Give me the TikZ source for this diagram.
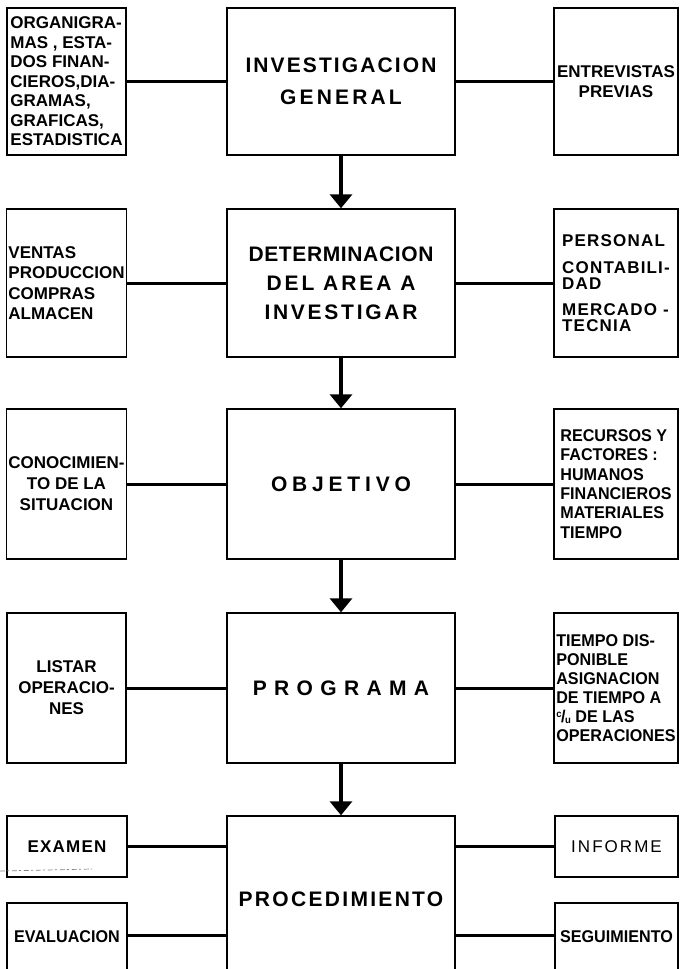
\documentclass[tikz,border=0pt]{standalone}
\usepackage{fontspec}
\setmainfont{Liberation Sans}
\newfontfamily\sidefont{Liberation Sans}[FakeStretch=0.95]
\usetikzlibrary{arrows.meta}
\newcommand{\cslash}{\raisebox{5pt}{\fontsize{10}{10}\selectfont c}\kern-0.5pt/\kern-0.5pt\raisebox{-1pt}{\fontsize{10}{10}\selectfont u}}
\newcommand{\ls}[2]{{\addfontfeatures{LetterSpace=#1}#2}}
\begin{document}
\begin{tikzpicture}[x=1pt,y=-1pt,
  box/.style={draw, line width=1.4pt, inner sep=2pt},
  mainbox/.style={box, minimum width=228pt, align=center, font=\fontsize{21}{29}\selectfont\bfseries},
  lbox/.style={box, minimum width=119pt},
  rbox/.style={box, minimum width=124pt},
  conn/.style={line width=3pt},
  flow/.style={line width=3.4pt, -{Triangle[width=22pt,length=14pt]}}]
\useasboundingbox (0,0) rectangle (680,969);
\clip (0,0) rectangle (680,969);

% ---- row 1
\node[mainbox, minimum height=147pt, font=\fontsize{21}{32}\selectfont\bfseries] (inv) at (341,81.5) {\ls{10}{INVESTIGACION}\\\ls{15}{GENERAL}};
\node[lbox, minimum height=147pt, align=left, font=\fontsize{17}{19.5}\selectfont\bfseries] (org) at (66.5,81.5)
  {ORGANIGRA-\\MAS , ESTA-\\DOS FINAN-\\CIEROS,DIA-\\GRAMAS,\\GRAFICAS,\\ESTADISTICA};
\node[rbox, minimum height=147pt, align=center, font=\fontsize{17}{20}\selectfont\bfseries] (ent) at (616,81.5) {ENTREVISTAS\\PREVIAS};

% ---- row 2
\node[mainbox, minimum height=148pt] (det) at (341,283) {\ls{3}{DETERMINACION}\\\ls{14}{DEL AREA A}\\\ls{13}{INVESTIGAR}};
\node[lbox, minimum height=148pt, align=left, font=\fontsize{17}{20.5}\selectfont\bfseries] (ven) at (66.5,283)
  {VENTAS\\PRODUCCION\\COMPRAS\\ALMACEN};
\node[rbox, minimum height=148pt, align=left, font=\fontsize{17}{16}\selectfont\bfseries\addfontfeatures{LetterSpace=7}] (per) at (616,283)
  {PERSONAL\\[11pt]CONTABILI-\\DAD\\[10pt]MERCADO -\\TECNIA};

% ---- row 3
\node[mainbox, minimum height=150pt] (obj) at (341,484) {\ls{23}{OBJETIVO}};
\node[lbox, minimum height=150pt, align=center, font=\fontsize{17}{21}\selectfont\bfseries] (con) at (66.5,484)
  {CONOCIMIEN-\\TO DE LA\\SITUACION};
\node[rbox, minimum height=150pt, align=left, font=\fontsize{17}{19.3}\selectfont\sidefont\bfseries] (rec) at (616,484)
  {RECURSOS Y\\FACTORES :\\HUMANOS\\FINANCIEROS\\MATERIALES\\TIEMPO};

% ---- row 4
\node[mainbox, minimum height=150pt] (prg) at (341,688) {\ls{35}{PROGRAMA}};
\node[lbox, minimum height=150pt, align=center, font=\fontsize{17}{21}\selectfont\bfseries] (lis) at (66.5,688)
  {LISTAR\\OPERACIO-\\NES};
\node[rbox, minimum height=150pt, align=left, font=\fontsize{17}{19}\selectfont\sidefont\bfseries] (tie) at (616,688)
  {TIEMPO DIS-\\PONIBLE\\ASIGNACION\\DE TIEMPO A\\\cslash{} DE LAS\\OPERACIONES};

% ---- row 5
\node[mainbox, minimum height=166pt] (prc) at (341,899) {\ls{11}{PROCEDIMIENTO}};
\node[lbox, minimum width=120pt, minimum height=61pt, font=\fontsize{17}{19}\selectfont\bfseries\addfontfeatures{LetterSpace=7}] (exa) at (67,846.5) {EXAMEN};
\node[lbox, minimum width=120pt, minimum height=72pt, font=\fontsize{17}{19}\selectfont\sidefont\bfseries] (eva) at (67,939) {\raisebox{4pt}{EVALUACION}};
\node[rbox, minimum width=123pt, minimum height=61pt, font=\fontsize{17}{19}\selectfont\addfontfeatures{LetterSpace=12}] (inf) at (616.5,846.5) {INFORME};
\node[rbox, minimum width=123pt, minimum height=72pt, font=\fontsize{17}{19}\selectfont\sidefont\bfseries] (seg) at (616.5,939) {\raisebox{4pt}{SEGUIMIENTO}};

% ---- horizontal connectors
\draw[conn] (org.east) -- (inv.west);
\draw[conn] (inv.east) -- (ent.west);
\draw[conn] (ven.east) -- (det.west);
\draw[conn] (det.east) -- (per.west);
\draw[conn] (con.east) -- (obj.west);
\draw[conn] (obj.east) -- (rec.west);
\draw[conn] (lis.east) -- (prg.west);
\draw[conn] (prg.east) -- (tie.west);
\draw[conn] (exa.east) -- (exa.east -| prc.west);
\draw[conn] (prc.east |- inf.west) -- (inf.west);
\draw[conn] ([yshift=4pt]eva.east) -- ([yshift=4pt]eva.east -| prc.west);
\draw[conn] ([yshift=4pt]seg.west -| prc.east) -- ([yshift=4pt]seg.west);

% ---- vertical flow
\draw[flow] (inv.south) -- (det.north);
\draw[flow] (det.south) -- (obj.north);
\draw[flow] (obj.south) -- (prg.north);
\draw[flow] (prg.south) -- (prc.north);

% ---- faint dashed mark near EXAMEN
\coordinate (d1) at (0,871);
\coordinate (d2) at (92,869);
\draw[gray, line width=0.7pt, dash pattern=on 5pt off 2pt on 2pt off 3pt] (d1) -- (d2);
\end{tikzpicture}
\end{document}
